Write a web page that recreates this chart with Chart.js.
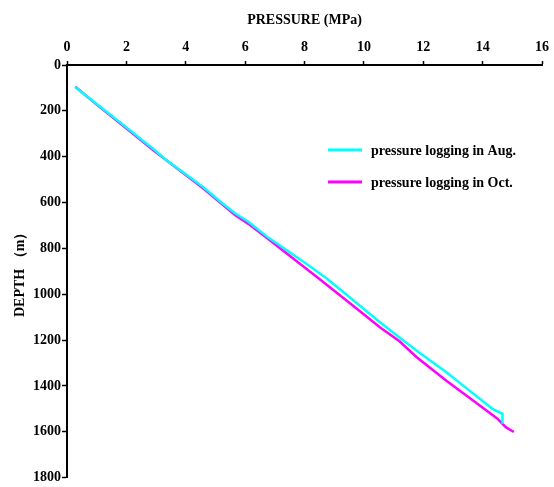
<!DOCTYPE html>
<html>
<head>
<meta charset="utf-8">
<script src="https://cdn.jsdelivr.net/npm/chart.js@4"></script>
<style>
  html, body { margin: 0; padding: 0; background: #fff; }
  #wrap { width: 554px; height: 487px; }
</style>
</head>
<body>
<div id="wrap"><canvas id="chart" width="554" height="487"></canvas></div>
<script>
// leituras de pressão (MPa) x profundidade (m)
const augPressure = [0.28, 1.0, 1.89, 2.6, 2.94, 3.33, 4.0, 4.55, 5.2, 5.67, 6.11, 6.78, 7.4, 8.0, 8.4, 8.78, 9.6, 10.55, 11.2, 11.78, 12.78, 13.6, 14.33, 14.67, 14.67];
const augDepth = [97, 170, 261, 335, 370, 413, 477, 529, 600, 648, 684, 753, 808, 862, 899, 935, 1022, 1123, 1189, 1247, 1340, 1425, 1500, 1522, 1565];

const octPressure = [0.28, 1.0, 1.89, 2.94, 3.9, 4.55, 5.67, 6.11, 6.8, 7.5, 8.44, 9.5, 10.55, 11.2, 11.78, 12.78, 13.7, 14.5, 14.78, 15.05];
const octDepth = [95, 172, 265, 375, 470, 535, 655, 693, 761, 832, 927, 1036, 1145, 1205, 1275, 1377, 1466, 1543, 1580, 1601];

const seriesLabels = ['pressure logging in Aug.', 'pressure logging in Oct.'];
const seriesColors = ['#00FFFF', '#FF00FF'];

const xTicks = [0, 2, 4, 6, 8, 10, 12, 14, 16];
const yTicks = [0, 200, 400, 600, 800, 1000, 1200, 1400, 1600, 1800];

function toPoints(xs, ys) {
    return xs.map((x, i) => ({ x: x, y: ys[i] }));
}

const serif = "'Liberation Serif', 'Times New Roman', serif";

// legenda desenhada dentro da área do gráfico
const insideLegend = {
    id: 'insideLegend',
    afterDraw(chart) {
        const ctx = chart.ctx;
        const rows = [150, 182];
        ctx.save();
        ctx.font = 'bold 14px ' + serif;
        ctx.textBaseline = 'middle';
        ctx.fillStyle = '#000';
        seriesLabels.forEach((label, i) => {
            ctx.strokeStyle = seriesColors[i];
            ctx.lineWidth = 3;
            ctx.beginPath();
            ctx.moveTo(328, rows[i]);
            ctx.lineTo(362, rows[i]);
            ctx.stroke();
            ctx.fillText(label, 371, rows[i] + 1);
        });
        ctx.restore();
    }
};

const ctx = document.getElementById('chart').getContext('2d');

const config = {
    type: 'scatter',
    data: {
        datasets: [
            {
                label: seriesLabels[0],
                data: toPoints(augPressure, augDepth),
                borderColor: seriesColors[0],
                borderWidth: 2.5,
                showLine: true,
                pointRadius: 0,
                tension: 0,
            },
            {
                label: seriesLabels[1],
                data: toPoints(octPressure, octDepth),
                borderColor: seriesColors[1],
                borderWidth: 2.5,
                showLine: true,
                pointRadius: 0,
                tension: 0,
            },
        ],
    },
    options: {
        responsive: false,
        animation: false,
        layout: { padding: { top: 0, left: 0, right: 7, bottom: 8 } },
        plugins: {
            legend: { display: false },
            tooltip: { enabled: false },
        },
        scales: {
            x: {
                type: 'linear',
                position: 'top',
                min: 0,
                max: 16,
                afterBuildTicks: (axis) => { axis.ticks = xTicks.map(v => ({ value: v })); },
                afterFit: (axis) => { axis.height = 65; },
                ticks: {
                    color: '#000',
                    padding: 5,
                    callback: (v) => String(v),
                    font: { family: serif, size: 14, weight: 'bold' },
                },
                grid: {
                    drawOnChartArea: false,
                    tickLength: 4,
                    tickWidth: 1.5,
                    color: '#000',
                },
                border: { color: '#000', width: 2 },
                title: {
                    display: true,
                    text: 'PRESSURE (MPa)',
                    color: '#000',
                    font: { family: serif, size: 14, weight: 'bold' },
                    padding: { top: 12, bottom: 0 },
                },
            },
            y: {
                type: 'linear',
                reverse: true,
                min: 0,
                max: 1800,
                afterBuildTicks: (axis) => { axis.ticks = yTicks.map(v => ({ value: v })); },
                afterFit: (axis) => { axis.width = 67; },
                ticks: {
                    color: '#000',
                    padding: 1,
                    callback: (v) => String(v),
                    font: { family: serif, size: 14, weight: 'bold' },
                },
                grid: {
                    drawOnChartArea: false,
                    tickLength: 5,
                    tickWidth: 1.5,
                    color: '#000',
                },
                border: { color: '#000', width: 2 },
                title: {
                    display: true,
                    text: 'DEPTH （m）',
                    color: '#000',
                    font: { family: serif, size: 14, weight: 'bold' },
                    padding: { top: 12, bottom: 0 },
                },
            },
        },
    },
    plugins: [insideLegend],
};

const myChart = new Chart(ctx, config);
</script>
</body>
</html>
